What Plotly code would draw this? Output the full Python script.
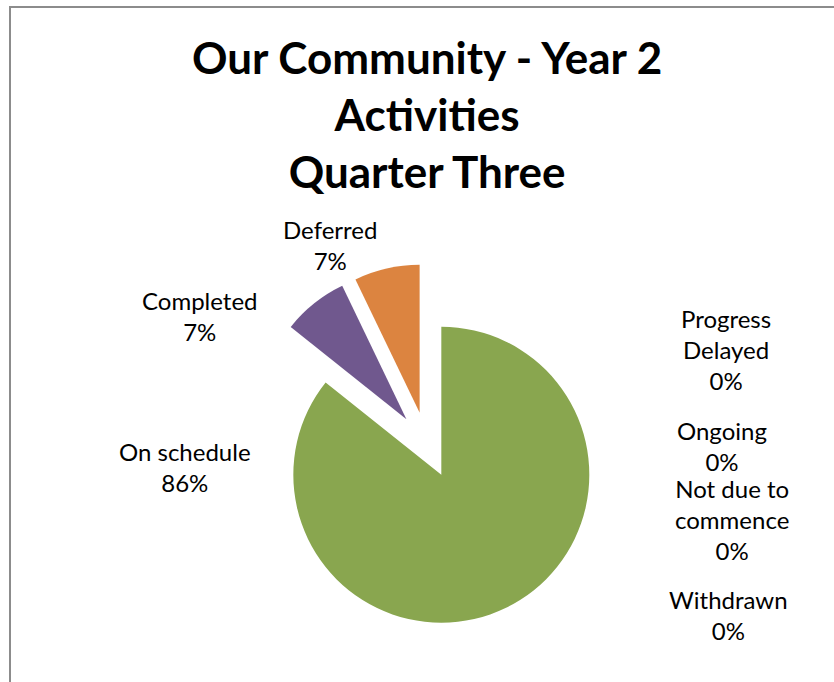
import plotly.graph_objects as go

# ---- data ----
categories = ["Progress Delayed", "Ongoing", "Not due to commence", "Withdrawn",
              "On schedule", "Completed", "Deferred"]
label_lines = ["Progress<br>Delayed", "Ongoing", "Not due to<br>commence", "Withdrawn",
               "On schedule", "Completed", "Deferred"]
values = [0, 0, 0, 0, 12, 1, 1]
colors = ["#4F81BD", "#C0504D", "#9BBB59", "#8064A2", "#89A64F", "#70588E", "#DC8440"]

title_text = "Our Community - Year 2<br>Activities<br>Quarter Three"

# label placement (pixel centres in an 834x682 canvas)
label_pos = [(726, 349), (722, 446), (732, 519), (728, 615),
             (185, 467), (200, 316), (330, 245)]

W, H = 834, 682
total = sum(values)

fig = go.Figure()
fig.add_trace(go.Pie(
    labels=categories,
    values=values,
    sort=False,
    direction="clockwise",
    rotation=0,
    pull=[0.223] * len(values),
    marker=dict(colors=colors, line=dict(width=0)),
    textinfo="none",
    hoverinfo="skip",
    showlegend=False,
    domain=dict(x=[(427 - 181) / W, (427 + 181) / W],
                y=[1 - (445 + 181) / H, 1 - (445 - 181) / H]),
))

annotations = []
for lab, v, (px, py) in zip(label_lines, values, label_pos):
    pct = round(100 * v / total)
    annotations.append(dict(
        x=px / W, y=1 - py / H, xref="paper", yref="paper",
        text=f"{lab}<br>{pct}%", showarrow=False,
        xanchor="center", yanchor="middle", align="center",
        font=dict(family="Lato", size=24, color="#000000"),
    ))

annotations.append(dict(
    x=427 / W, y=1 - 114 / H, xref="paper", yref="paper",
    text=f"<b>{title_text}</b>", showarrow=False,
    xanchor="center", yanchor="middle", align="center",
    font=dict(family="Lato", size=44, color="#000000"),
))

fig.update_layout(
    width=W, height=H,
    margin=dict(l=0, r=0, t=0, b=0),
    paper_bgcolor="white",
    plot_bgcolor="white",
    annotations=annotations,
    shapes=[dict(type="rect", xref="paper", yref="paper",
                 x0=10 / W, x1=1.05, y0=-0.05, y1=1 - 7 / H,
                 line=dict(color="#8C8C8C", width=2), layer="above")],
)

fig.write_html("out.html", config={"displayModeBar": False},
               post_script="document.body.style.margin='0px';")
